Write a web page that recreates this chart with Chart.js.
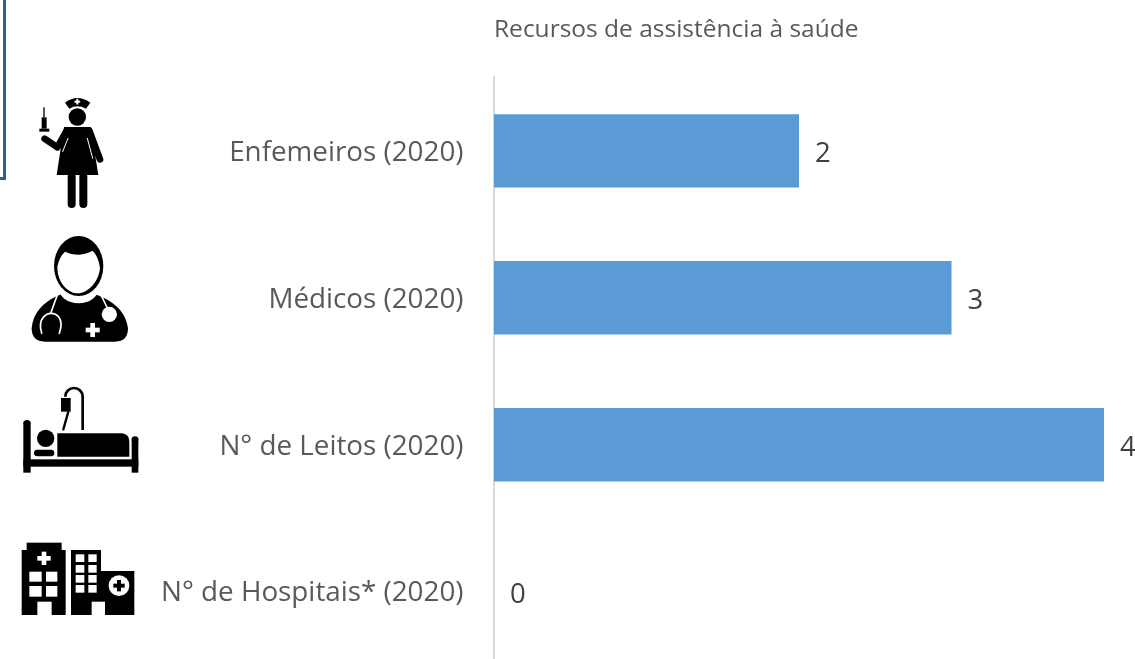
<!DOCTYPE html>
<html>
<head>
<meta charset="utf-8">
<style>
html, body { margin: 0; padding: 0; background: #fff; overflow: hidden; }
#wrap { position: relative; width: 1135px; height: 659px; overflow: hidden; }
</style>
<script src="https://cdn.jsdelivr.net/npm/chart.js@4"></script>
</head>
<body>
<div id="wrap"><canvas id="resourcesChart" width="1135" height="665"></canvas></div>
<script>
const categories = ['Enfemeiros (2020)', 'Médicos (2020)', 'N° de Leitos (2020)', 'N° de Hospitais* (2020)'];
const values = [2, 3, 4, 0];
const chartTitle = 'Recursos de assistência à saúde';

const fontFamily = '"Open Sans", sans-serif';
const grey = '#595959';

// value labels next to the bars
const barLabels = {
    id: 'barLabels',
    afterDatasetsDraw(chart) {
        const c = chart.ctx;
        const meta = chart.getDatasetMeta(0);
        c.save();
        c.font = '27.5px ' + fontFamily;
        c.fillStyle = '#404040';
        c.textBaseline = 'middle';
        meta.data.forEach((bar, i) => {
            c.fillText(values[i], bar.x + 16, bar.y + 3.5);
        });
        c.restore();
    }
};

function rect(c, x0, y0, x1, y1) {
    c.fillRect(x0, y0, x1 - x0, y1 - y0);
}

function disc(c, x, y, r) {
    c.beginPath();
    c.arc(x, y, r, 0, Math.PI * 2);
    c.fill();
}

function poly(c, pts) {
    c.beginPath();
    pts.forEach((p, i) => i ? c.lineTo(p[0], p[1]) : c.moveTo(p[0], p[1]));
    c.closePath();
    c.fill();
}

function line(c, pts, w) {
    c.lineWidth = w;
    c.lineCap = 'round';
    c.lineJoin = 'round';
    c.beginPath();
    pts.forEach((p, i) => i ? c.lineTo(p[0], p[1]) : c.moveTo(p[0], p[1]));
    c.stroke();
}

function cross(c, x, y, size, thick) {
    rect(c, x - size / 2, y - thick / 2, x + size / 2, y + thick / 2);
    rect(c, x - thick / 2, y - size / 2, x + thick / 2, y + size / 2);
}

// the pictograms are sketched in 3x units, measured on an enlarged crop
function drawNurse(c) {
    c.fillStyle = '#000';
    c.strokeStyle = '#000';
    c.beginPath();
    c.moveTo(195, 308);
    c.quadraticCurveTo(232, 280, 271, 308);
    c.lineTo(258, 326);
    c.quadraticCurveTo(232, 312, 208, 326);
    c.closePath();
    c.fill();
    c.fillStyle = '#fff';
    cross(c, 232, 305, 17, 6);
    c.fillStyle = '#000';
    disc(c, 232, 351, 26);
    poly(c, [[192, 381], [272, 381], [295, 525], [170, 525]]);
    line(c, [[200, 392], [172, 442], [134, 416]], 20);
    line(c, [[268, 392], [300, 478]], 20);
    // slits between the arms and the dress
    c.strokeStyle = '#fff';
    line(c, [[204, 415], [188, 455]], 3);
    line(c, [[262, 415], [278, 475]], 3);
    c.strokeStyle = '#000';
    line(c, [[215, 530], [215, 612]], 24);
    line(c, [[250, 530], [250, 612]], 24);
    rect(c, 130, 322, 134, 352);
    rect(c, 125, 352, 140, 386);
    rect(c, 118, 386, 148, 395);
}

function drawDoctor(c) {
    c.fillStyle = '#000';
    c.beginPath();
    c.moveTo(95, 985);
    c.bezierCurveTo(100, 930, 140, 900, 185, 882);
    c.lineTo(285, 882);
    c.bezierCurveTo(330, 900, 375, 925, 384, 985);
    c.quadraticCurveTo(384, 1025, 345, 1025);
    c.lineTo(135, 1025);
    c.quadraticCurveTo(95, 1025, 95, 985);
    c.closePath();
    c.fill();
    c.fillStyle = '#fff';
    c.beginPath();
    c.ellipse(236, 860, 62, 50, 0, 0, Math.PI * 2);
    c.fill();
    c.fillStyle = '#000';
    c.beginPath();
    c.ellipse(236, 798, 74, 90, 0, 0, Math.PI * 2);
    c.fill();
    c.fillStyle = '#fff';
    c.beginPath();
    c.moveTo(172, 800);
    c.quadraticCurveTo(178, 770, 195, 755);
    c.quadraticCurveTo(235, 775, 278, 752);
    c.quadraticCurveTo(296, 770, 300, 805);
    c.bezierCurveTo(295, 850, 260, 880, 235, 880);
    c.bezierCurveTo(205, 880, 172, 850, 172, 800);
    c.closePath();
    c.fill();
    c.strokeStyle = '#fff';
    line(c, [[172, 885], [152, 940]], 5);
    line(c, [[303, 885], [325, 930]], 5);
    c.lineWidth = 5;
    c.beginPath();
    c.moveTo(125, 1000);
    c.bezierCurveTo(110, 950, 145, 940, 153, 940);
    c.bezierCurveTo(165, 940, 195, 950, 178, 1000);
    c.stroke();
    disc(c, 328, 943, 23);
    cross(c, 278, 990, 42, 14);
}

function drawBed(c) {
    c.fillStyle = '#000';
    c.strokeStyle = '#000';
    rect(c, 70, 155, 92, 308);
    disc(c, 81, 160, 10);
    rect(c, 395, 205, 415, 308);
    disc(c, 405, 209, 10);
    rect(c, 70, 268, 415, 290);
    disc(c, 137, 205, 26);
    line(c, [[112, 249], [153, 249]], 20);
    c.beginPath();
    c.moveTo(172, 190);
    c.lineTo(365, 190);
    c.quadraticCurveTo(388, 192, 388, 215);
    c.lineTo(388, 260);
    c.lineTo(172, 260);
    c.closePath();
    c.fill();
    c.lineWidth = 8;
    c.lineCap = 'butt';
    c.beginPath();
    c.moveTo(248, 180);
    c.lineTo(248, 80);
    c.arc(222, 80, 26, 0, Math.PI, true);
    c.stroke();
    rect(c, 183, 84, 212, 125);
    line(c, [[205, 125], [190, 178]], 7);
}

function drawHospital(c) {
    c.fillStyle = '#000';
    rect(c, 65, 540, 197, 735);
    rect(c, 80, 518, 185, 540);
    rect(c, 213, 540, 303, 735);
    rect(c, 303, 603, 403, 735);
    c.fillStyle = '#fff';
    cross(c, 132, 565, 40, 14);
    rect(c, 88, 605, 125, 635);
    rect(c, 138, 605, 172, 635);
    rect(c, 88, 648, 125, 680);
    rect(c, 138, 648, 172, 680);
    rect(c, 112, 695, 155, 735);
    [553, 585, 615, 645].forEach(y => {
        rect(c, 227, y, 253, y + 23);
        rect(c, 265, y, 290, y + 23);
    });
    rect(c, 275, 695, 315, 735);
    disc(c, 357, 647, 31);
    c.fillStyle = '#000';
    cross(c, 357, 647, 34, 12);
}

// frame fragment and pictograms on the left
const decorations = {
    id: 'decorations',
    afterDraw(chart) {
        const c = chart.ctx;
        c.save();
        c.fillStyle = '#2f5f90';
        rect(c, 3, 0, 6, 180);
        rect(c, 0, 177, 6, 180);
        c.scale(1 / 3, 1 / 3);
        drawNurse(c);
        drawDoctor(c);
        c.translate(0, 1110);
        drawBed(c);
        drawHospital(c);
        c.restore();
    }
};

new Chart(document.getElementById('resourcesChart').getContext('2d'), {
    type: 'bar',
    plugins: [barLabels, decorations],
    data: {
        labels: categories,
        datasets: [{
            data: values,
            backgroundColor: '#5b9bd5',
            barPercentage: 0.5,
            categoryPercentage: 1
        }]
    },
    options: {
        indexAxis: 'y',
        responsive: false,
        animation: false,
        layout: { padding: { top: 15, left: 0, right: 31, bottom: 0 } },
        plugins: {
            legend: { display: false },
            tooltip: { enabled: false },
            title: {
                display: true,
                text: chartTitle,
                align: 'start',
                fullSize: false,
                color: grey,
                font: { family: fontFamily, size: 24.5, weight: 'normal' },
                padding: { top: 0, bottom: 33 }
            }
        },
        scales: {
            x: { display: false, min: 0, max: 4 },
            y: {
                afterFit(scale) {
                    scale.width = 494;
                    scale.paddingTop = 0;
                    scale.paddingBottom = 0;
                },
                grid: { display: false },
                border: { color: '#d9d9d9', width: 2 },
                ticks: { color: grey, font: { family: fontFamily, size: 27.8 }, padding: 22.5, labelOffset: 2 }
            }
        }
    }
});
</script>
</body>
</html>
